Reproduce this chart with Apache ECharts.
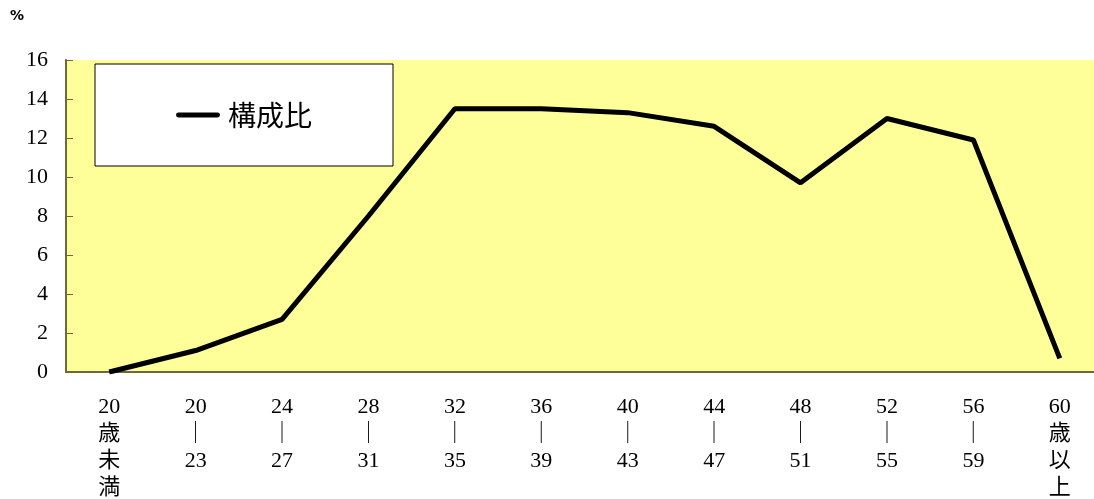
<!DOCTYPE html>
<html><head><meta charset="utf-8">
<script src="https://cdn.jsdelivr.net/npm/echarts@6/dist/echarts.min.js"></script>
<style>html,body{margin:0;padding:0;background:#fff}#c{width:1094px;height:499px}</style>
</head><body><div id="c"></div>
<script>
const categories = ['20\n歳\n未\n満','20\n｜\n23','24\n｜\n27','28\n｜\n31','32\n｜\n35','36\n｜\n39','40\n｜\n43','44\n｜\n47','48\n｜\n51','52\n｜\n55','56\n｜\n59','60\n歳\n以\n上'];
const ratioValues = [0, 1.1, 2.7, 8.0, 13.5, 13.5, 13.3, 12.6, 9.7, 13.0, 11.9, 0.7];
const seriesName = '構成比';
const unitLabel = '%';

const chart = echarts.init(document.getElementById('c'));
const serif = '"Liberation Serif","DejaVu Serif","Noto Sans CJK JP",serif';
const axisColor = '#6b6b3a';
chart.setOption({
  animation: false,
  grid: { left: 66, width: 1037, top: 60, height: 312, show: true, backgroundColor: '#ffff99', borderWidth: 0, containLabel: false, outerBoundsMode: 'none' },
  graphic: [{ type: 'text', left: 10, top: 9, style: { text: unitLabel, font: 'bold 14px "DejaVu Sans",sans-serif', fill: '#000' } }],
  legend: {
    left: 95, top: 64, orient: 'horizontal',
    padding: [37, 81, 37, 81],
    backgroundColor: '#fff', borderColor: '#000', borderWidth: 1,
    itemWidth: 44, itemHeight: 26, itemGap: 10,
    textStyle: { fontSize: 28, color: '#000', fontFamily: '"Noto Sans CJK JP",sans-serif', padding: [0,0,0,3] },
    data: [{ name: seriesName, icon: 'path://M2,11 L42,11 A2.5,2.5 0 0 1 42,16 L2,16 A2.5,2.5 0 0 1 2,11 Z' }]
  },
  xAxis: {
    type: 'category', data: categories, boundaryGap: true,
    axisLine: { lineStyle: { color: axisColor, width: 2 } },
    axisTick: { inside: true, length: 7, lineStyle: { color: '#000', width: 1 } },
    axisLabel: { interval: 0, margin: 22, color: '#000', fontSize: 22, lineHeight: 27, fontFamily: serif, align: 'center' },
    splitLine: { show: false }
  },
  yAxis: {
    type: 'value', min: 0, max: 16, interval: 2,
    axisLine: { show: true, lineStyle: { color: axisColor, width: 2 } },
    axisTick: { show: true, inside: true, length: 7, lineStyle: { color: axisColor } },
    axisLabel: { margin: 18, color: '#000', fontSize: 22, fontFamily: serif },
    splitLine: { show: false }
  },
  series: [{
    name: seriesName, type: 'line', data: ratioValues, symbol: 'none',
    lineStyle: { color: '#000', width: 5 }, itemStyle: { color: '#000' }
  }]
});
</script></body></html>
